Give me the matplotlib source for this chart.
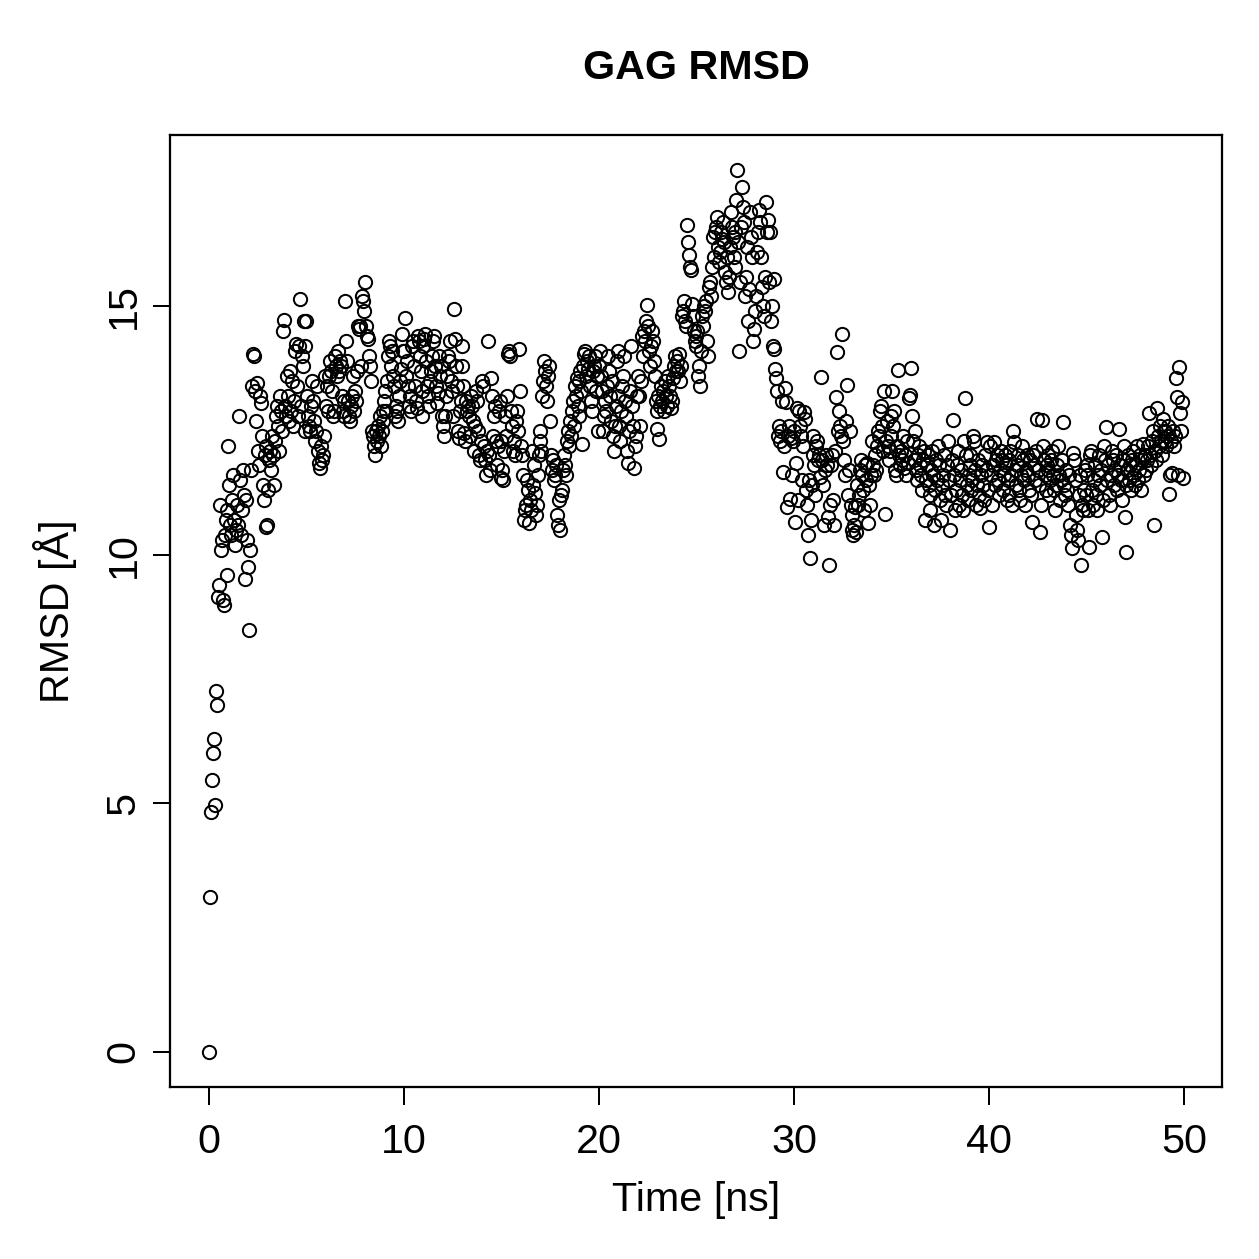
import numpy as np
import matplotlib
matplotlib.use("Agg")
import matplotlib.pyplot as plt

plt.rcParams['font.family'] = ['Liberation Sans', 'DejaVu Sans']

time_step_ns = 0.05

rmsd_00_05 = [
    0.00, 3.12, 4.83, 5.46, 6.02, 6.30, 4.96, 7.25, 6.97, 9.15, 9.40, 11.00, 10.10, 10.30, 9.09, 8.99, 10.40, 10.70, 9.60, 10.90,
    12.20, 11.40, 10.60, 10.40, 11.10, 11.60, 10.70, 10.20, 10.50, 11.00, 10.60, 12.80, 11.50, 10.40, 10.90, 11.70, 11.20, 9.52, 11.10, 10.30,
    9.76, 8.48, 10.10, 11.70, 13.40, 14.05, 14.00, 13.30, 12.70, 13.45, 12.10, 11.80, 13.20, 13.05, 12.40, 11.40, 11.10, 12.00, 12.20, 10.56,
    10.60, 11.30, 11.90, 12.10, 11.70, 12.40, 12.00, 11.40, 12.30, 12.80, 13.00, 12.60, 12.10, 13.20, 12.90, 12.50, 14.50, 14.72, 13.00, 12.80,
    13.60, 13.20, 12.70, 13.70, 12.90, 13.50, 12.60, 13.10, 14.10, 14.25, 13.40, 12.80, 14.20, 15.15, 13.00, 14.00, 13.80, 14.70, 14.20, 12.50,
]
rmsd_05_10 = [
    14.70, 13.20, 12.80, 12.60, 12.50, 13.00, 13.50, 13.10, 12.70, 12.30, 12.50, 13.40, 12.10, 11.85, 11.75, 12.20, 11.90, 12.00, 12.40, 13.60,
    13.00, 13.40, 12.90, 13.60, 13.90, 13.70, 13.30, 12.80, 12.90, 14.00, 13.80, 13.60, 14.10, 13.70, 13.90, 13.80, 13.20, 12.90, 12.80, 13.10,
    15.10, 14.30, 13.90, 13.10, 12.80, 12.70, 13.00, 13.20, 13.60, 12.90, 13.30, 13.10, 13.70, 14.60, 14.55, 14.60, 13.80, 15.20, 15.10, 14.90,
    15.50, 14.60, 14.40, 14.35, 14.00, 13.80, 13.50, 12.50, 12.40, 12.20, 12.00, 12.50, 12.30, 12.60, 12.40, 12.80, 12.20, 12.50, 12.90, 12.70,
    13.10, 13.30, 12.90, 13.50, 14.00, 14.30, 14.20, 13.80, 14.10, 13.60, 13.40, 12.80, 13.00, 12.90, 12.70, 13.20, 13.50, 13.75, 14.45, 14.10,
]
rmsd_10_15 = [
    14.10, 14.76, 13.60, 13.90, 13.40, 13.00, 13.20, 12.90, 14.20, 14.30, 13.80, 13.40, 13.10, 12.95, 14.40, 14.30, 14.00, 13.70, 12.80, 13.30,
    14.20, 14.35, 14.45, 13.90, 13.40, 13.20, 13.00, 13.50, 13.70, 14.00, 14.30, 14.40, 13.80, 13.40, 13.05, 13.25, 14.00, 13.60, 13.80, 12.80,
    12.60, 12.40, 12.80, 13.20, 13.60, 14.00, 13.90, 14.30, 13.50, 13.30, 12.80, 14.95, 14.35, 13.80, 13.40, 12.50, 12.35, 12.90, 13.10, 14.20,
    13.80, 13.40, 12.45, 12.30, 13.10, 12.90, 13.00, 12.80, 12.40, 13.20, 13.00, 12.70, 12.10, 12.60, 13.30, 13.10, 12.50, 12.00, 11.90, 12.30,
    13.50, 13.40, 12.20, 11.90, 11.60, 12.10, 14.30, 12.00, 11.70, 13.55, 13.20, 12.40, 12.80, 13.00, 12.30, 11.80, 12.20, 12.90, 13.10, 11.55,
]
rmsd_15_20 = [
    12.30, 11.70, 11.50, 12.10, 12.80, 12.40, 13.20, 14.05, 14.10, 14.00, 12.90, 12.60, 12.10, 12.30, 12.00, 12.70, 12.90, 12.50, 14.15, 13.30,
    12.20, 12.00, 11.60, 10.70, 10.90, 11.00, 11.50, 11.30, 10.65, 11.10, 10.90, 12.10, 11.40, 11.80, 11.25, 10.80, 11.00, 11.60, 12.00, 12.30,
    12.50, 12.10, 13.20, 13.50, 13.90, 13.70, 13.40, 13.10, 13.60, 13.80, 12.70, 12.00, 11.70, 11.90, 11.50, 11.60, 11.80, 10.80, 10.60, 11.10,
    10.50, 11.20, 11.30, 11.70, 12.00, 11.80, 11.60, 12.30, 12.50, 12.20, 12.70, 12.40, 12.90, 13.10, 12.60, 13.40, 13.20, 13.55, 13.00, 12.80,
    13.50, 13.70, 13.30, 12.24, 13.80, 14.05, 14.10, 13.60, 13.90, 13.75, 14.00, 13.40, 13.10, 12.90, 13.70, 13.80, 14.00, 13.30, 13.60, 12.50,
]
rmsd_20_25 = [
    13.80, 14.10, 13.60, 13.30, 12.50, 12.80, 13.10, 12.90, 13.40, 14.00, 13.70, 13.20, 12.70, 13.50, 12.40, 12.10, 12.60, 13.00, 13.90, 14.10,
    13.20, 12.60, 12.30, 12.90, 13.40, 13.60, 14.00, 13.10, 12.80, 12.10, 11.85, 12.50, 13.30, 14.20, 13.00, 12.60, 11.75, 12.20, 12.40, 13.20,
    13.60, 13.20, 12.60, 13.50, 14.40, 14.00, 14.50, 14.30, 14.70, 15.03, 14.60, 14.10, 13.80, 14.20, 14.50, 14.30, 13.90, 13.60, 13.10, 12.90,
    12.54, 13.20, 12.34, 13.00, 13.40, 13.10, 13.30, 12.90, 13.50, 13.20, 13.00, 13.60, 13.40, 13.20, 12.95, 13.10, 13.55, 13.80, 14.00, 13.70,
    13.90, 13.70, 14.05, 13.50, 13.80, 14.80, 14.90, 15.10, 14.70, 14.60, 16.64, 16.30, 16.03, 15.80, 15.73, 15.05, 14.80, 14.50, 14.30, 14.20,
]
rmsd_25_30 = [
    14.40, 14.50, 13.60, 13.80, 13.40, 14.10, 14.80, 14.60, 15.00, 14.90, 15.10, 14.30, 14.00, 15.40, 15.50, 15.20, 15.80, 16.40, 16.00, 16.50,
    16.60, 16.80, 16.20, 15.90, 16.10, 16.50, 16.35, 16.70, 16.30, 15.70, 15.50, 16.00, 15.30, 15.60, 16.20, 16.90, 16.60, 16.40, 16.00, 15.80,
    16.50, 17.14, 17.74, 16.30, 14.10, 15.50, 16.60, 17.41, 17.00, 16.70, 15.20, 15.60, 16.20, 14.70, 15.35, 16.90, 16.40, 16.00, 14.30, 14.55,
    14.90, 15.20, 16.10, 16.50, 16.94, 16.70, 16.00, 15.40, 15.00, 14.80, 15.60, 17.10, 16.50, 16.74, 15.50, 16.50, 14.70, 15.00, 14.20, 15.56,
    14.15, 13.75, 13.55, 13.30, 12.40, 12.60, 12.30, 12.50, 13.10, 11.67, 12.20, 13.35, 13.08, 10.97, 12.40, 12.60, 11.13, 12.35, 11.60, 12.30,
]
rmsd_30_35 = [
    12.50, 10.66, 11.84, 12.95, 11.10, 12.90, 12.60, 12.40, 11.50, 12.20, 12.88, 12.74, 11.30, 11.00, 10.40, 11.50, 9.93, 10.70, 11.40, 12.00,
    12.40, 11.80, 11.20, 12.20, 12.30, 11.90, 12.00, 11.57, 13.58, 11.90, 11.40, 10.60, 11.70, 12.00, 11.80, 10.77, 9.79, 11.00, 11.80, 12.00,
    11.10, 10.60, 12.10, 13.18, 14.09, 12.50, 12.90, 12.60, 12.40, 14.45, 12.30, 11.90, 11.60, 12.70, 13.41, 11.20, 11.70, 12.50, 11.00, 10.80,
    10.50, 10.40, 10.60, 10.96, 10.46, 11.40, 11.00, 11.20, 11.70, 11.90, 11.60, 11.30, 10.90, 11.80, 11.50, 11.85, 10.65, 11.40, 11.00, 11.60,
    12.30, 11.80, 11.60, 12.00, 11.70, 12.20, 12.50, 12.40, 12.90, 13.00, 12.60, 12.10, 13.30, 10.83, 12.30, 12.70, 12.20, 11.90, 12.10, 12.40,
]
rmsd_35_40 = [
    12.80, 13.30, 12.60, 12.90, 11.70, 11.60, 12.20, 13.72, 12.00, 11.80, 12.10, 11.90, 12.40, 11.75, 12.00, 11.60, 12.30, 11.85, 13.15, 13.21,
    13.76, 12.80, 12.30, 11.90, 12.50, 11.70, 11.50, 12.00, 12.20, 11.80, 11.60, 11.30, 11.90, 12.10, 10.70, 11.50, 11.80, 12.00, 11.40, 11.20,
    10.90, 11.70, 12.10, 11.60, 10.60, 11.30, 11.90, 11.50, 12.20, 11.80, 11.10, 10.70, 11.40, 11.60, 12.00, 11.20, 11.00, 11.80, 12.30, 11.50,
    10.50, 11.20, 11.90, 12.72, 11.60, 10.90, 11.30, 11.80, 12.10, 11.00, 11.50, 11.70, 11.20, 10.90, 12.30, 13.16, 12.00, 11.40, 11.10, 11.60,
    11.80, 12.00, 11.30, 11.50, 12.40, 12.30, 11.70, 11.00, 11.40, 11.90, 11.20, 10.95, 11.60, 11.80, 11.40, 11.10, 12.00, 11.70, 12.27, 11.30,
]
rmsd_40_45 = [
    10.56, 12.20, 11.60, 11.00, 11.80, 12.27, 11.40, 11.90, 12.00, 11.50, 11.20, 11.70, 12.10, 11.90, 11.30, 11.60, 12.00, 11.80, 11.10, 11.50,
    11.20, 11.90, 12.10, 11.60, 11.00, 12.50, 12.27, 11.70, 11.40, 11.80, 12.00, 11.30, 11.10, 11.60, 12.20, 11.90, 11.50, 11.00, 11.70, 12.00,
    11.60, 11.30, 11.90, 11.20, 10.66, 12.00, 11.80, 11.50, 12.10, 12.74, 11.70, 11.40, 10.46, 11.00, 12.71, 12.20, 11.90, 11.60, 11.30, 11.80,
    12.00, 11.70, 11.20, 11.50, 11.90, 12.10, 11.60, 11.30, 10.90, 11.40, 11.80, 12.20, 11.60, 11.10, 11.50, 11.90, 12.68, 11.40, 11.20, 11.70,
    11.30, 11.00, 11.60, 10.60, 10.40, 10.13, 12.04, 11.90, 11.50, 10.80, 10.50, 10.30, 11.20, 11.60, 9.79, 11.00, 10.90, 11.30, 11.70, 11.20,
]
rmsd_45_50 = [
    11.80, 11.60, 10.90, 10.16, 12.00, 12.10, 11.30, 11.00, 11.50, 11.80, 11.20, 10.90, 11.60, 12.00, 11.40, 11.70, 10.36, 11.10, 12.20, 11.90,
    12.58, 11.50, 11.80, 11.20, 11.00, 11.60, 12.10, 11.90, 11.40, 11.70, 12.00, 11.30, 11.60, 12.54, 11.80, 11.50, 11.10, 11.90, 12.20, 10.76,
    10.06, 11.40, 11.70, 12.00, 11.50, 11.80, 11.30, 11.90, 12.10, 11.60, 11.40, 11.80, 12.20, 11.50, 11.70, 12.00, 11.30, 11.90, 12.24, 11.60,
    12.00, 11.70, 11.90, 12.20, 12.85, 12.00, 11.80, 12.30, 12.50, 10.60, 12.10, 11.90, 12.95, 12.40, 12.20, 12.60, 12.30, 12.00, 12.74, 12.50,
    12.30, 12.50, 12.20, 12.40, 12.60, 11.23, 11.60, 12.30, 11.65, 12.50, 12.20, 12.40, 13.55, 13.18, 11.60, 13.78, 12.85, 12.50, 13.08, 11.55,
]

x_ticks = [0, 10, 20, 30, 40, 50]
y_ticks = [0, 5, 10, 15]

rmsd = np.array(rmsd_00_05 + rmsd_05_10 + rmsd_10_15 + rmsd_15_20 + rmsd_20_25
                + rmsd_25_30 + rmsd_30_35 + rmsd_35_40 + rmsd_40_45 + rmsd_45_50)
time = np.arange(len(rmsd)) * time_step_ns

FS = 16.5
dpi = 180
fig = plt.figure(figsize=(1259 / dpi, 1259 / dpi), dpi=dpi)
ax = fig.add_axes([170 / 1259, 1 - 1087 / 1259, (1222 - 170) / 1259, (1087 - 135) / 1259])

ax.plot(time, rmsd, linestyle='none', marker='o', markersize=5.3,
        markerfacecolor='none', markeredgecolor='black', markeredgewidth=0.8)

xr = time.max() - time.min()
yr = rmsd.max() - rmsd.min()
ax.set_xlim(time.min() - 0.04 * xr, time.max() + 0.04 * xr)
ax.set_ylim(rmsd.min() - 0.04 * yr, rmsd.max() + 0.04 * yr)

ax.set_xticks(x_ticks)
ax.set_yticks(y_ticks)
ax.set_xticklabels([str(v) for v in x_ticks])
ax.set_yticklabels([str(v) for v in y_ticks], rotation=90, va='center')
ax.tick_params(axis='both', direction='out', length=7, width=0.8, labelsize=FS,
               top=False, right=False)
ax.tick_params(axis='x', pad=7.5)
ax.tick_params(axis='y', pad=4)
for s in ax.spines.values():
    s.set_linewidth(0.9)

ax.set_xlabel('Time [ns]', fontsize=FS, labelpad=8)
ax.set_ylabel('RMSD [Å]', fontsize=FS, labelpad=11)
fig.text(0.5 * (170 + 1222) / 1259, 1 - 68 / 1259, 'GAG RMSD', ha='center', va='center',
         fontsize=FS, fontweight='bold')

fig.savefig('out.png', dpi=dpi)
